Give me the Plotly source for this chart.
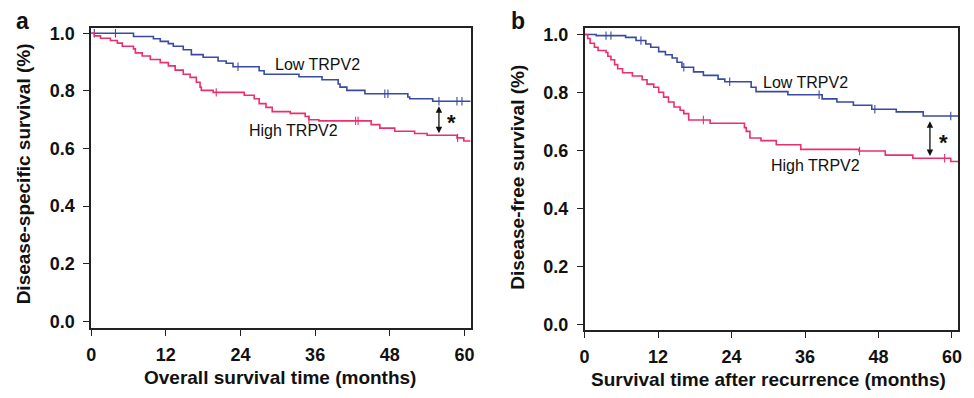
import numpy as np
import plotly.graph_objects as go

# ---------------- data ----------------
# Panel a: disease-specific survival
a_low_t = [0, 6.8, 10.0, 11.1, 12.4, 13.2, 14.8, 16.1, 18.0, 20.4, 21.7, 22.8, 27.0, 27.8,
           33.4, 37.1, 39.7, 40.0, 41.1, 44.0, 50.9, 51.2, 54.9, 61.0]
a_low_s = [1.0, 0.989, 0.981, 0.972, 0.964, 0.955, 0.943, 0.926, 0.917, 0.904, 0.896, 0.884,
           0.870, 0.858, 0.849, 0.839, 0.824, 0.813, 0.802, 0.790, 0.779, 0.773, 0.764, 0.764]
a_low_cens = [0.5, 3.9, 23.6, 47.2, 47.7, 55.9, 58.8, 59.6]

a_high_t = [0, 0.5, 1.5, 3.1, 4.2, 5.0, 6.8, 7.1, 8.2, 9.5, 11.1, 12.4, 13.5, 14.8, 15.9,
            16.9, 17.5, 17.7, 19.6, 24.6, 26.2, 27.0, 28.1, 29.1, 32.0, 34.4, 35.0, 36.6,
            45.0, 46.4, 48.8, 52.0, 54.0, 58.8, 59.9, 61.0]
a_high_s = [1.0, 0.991, 0.983, 0.975, 0.966, 0.955, 0.946, 0.932, 0.921, 0.909, 0.898, 0.887,
            0.872, 0.858, 0.847, 0.830, 0.813, 0.802, 0.795, 0.785, 0.773, 0.756, 0.743,
            0.728, 0.722, 0.711, 0.700, 0.696, 0.683, 0.671, 0.660, 0.652, 0.646, 0.637,
            0.626, 0.626]
a_high_cens = [20.1, 35.0, 42.5, 42.9, 58.9]

# Panel b: disease-free survival
b_low_t = [0, 1.9, 6.7, 8.4, 10.0, 10.8, 12.1, 13.2, 14.3, 15.1, 15.9, 17.8, 19.4, 21.8,
           22.9, 27.2, 28.0, 33.2, 38.8, 41.2, 43.9, 46.9, 50.9, 55.3, 61.0]
b_low_s = [1.0, 0.996, 0.990, 0.979, 0.967, 0.956, 0.941, 0.930, 0.919, 0.904, 0.887, 0.871,
           0.859, 0.846, 0.837, 0.818, 0.803, 0.792, 0.778, 0.767, 0.756, 0.742, 0.733,
           0.719, 0.719]
b_low_cens = [3.5, 4.3, 9.2, 16.2, 23.7, 38.3, 47.4, 59.8]

b_high_t = [0, 0.5, 0.9, 1.6, 2.2, 3.5, 3.8, 4.3, 4.9, 5.4, 6.2, 7.8, 9.4, 10.2, 11.3, 12.1,
            12.9, 13.7, 14.6, 15.6, 16.2, 17.0, 20.5, 26.1, 26.4, 27.0, 28.8, 31.3, 35.3,
            44.8, 49.1, 53.6, 59.8, 61.0]
b_high_s = [1.0, 0.986, 0.970, 0.956, 0.945, 0.938, 0.925, 0.913, 0.896, 0.882, 0.868, 0.857,
            0.844, 0.829, 0.818, 0.801, 0.784, 0.767, 0.750, 0.739, 0.727, 0.705, 0.694,
            0.679, 0.666, 0.643, 0.634, 0.620, 0.604, 0.598, 0.584, 0.573, 0.562, 0.562]
b_high_cens = [19.4, 44.9, 58.8]

x_ticks = [0, 12, 24, 36, 48, 60]
y_ticks = [0.0, 0.2, 0.4, 0.6, 0.8, 1.0]
y_ticklabels = ["0.0", "0.2", "0.4", "0.6", "0.8", "1.0"]

BLUE = "#3a4aa3"
RED = "#eb2f6b"
FONT = "Liberation Sans, Arial, sans-serif"

W, H = 974, 398


def PX(x):
    return x / W


def PY(y):
    return 1 - y / H


def surv_at(t, s, tc):
    t = np.asarray(t)
    s = np.asarray(s)
    idx = np.searchsorted(t, np.asarray(tc), side="right") - 1
    return s[idx]


fig = go.Figure()


def add_panel(xa, ya, t1, s1, c1, t2, s2, c2):
    for t, s, c, col in [(t1, s1, c1, BLUE), (t2, s2, c2, RED)]:
        fig.add_trace(go.Scatter(x=t, y=s, mode="lines", line=dict(color=col, width=1.6, shape="hv"),
                                 xaxis=xa, yaxis=ya, showlegend=False, hoverinfo="skip"))
        fig.add_trace(go.Scatter(x=c, y=surv_at(t, s, c), mode="markers",
                                 marker=dict(symbol="line-ns", size=6, line=dict(color=col, width=1.1)),
                                 xaxis=xa, yaxis=ya, showlegend=False, hoverinfo="skip"))


add_panel("x", "y", a_low_t, a_low_s, a_low_cens, a_high_t, a_high_s, a_high_cens)
add_panel("x2", "y2", b_low_t, b_low_s, b_low_cens, b_high_t, b_high_s, b_high_cens)

axis_common = dict(showline=True, linecolor="#222", linewidth=1.6, mirror=True, ticks="outside",
                   ticklen=6, tickwidth=1.4, tickcolor="#222", showgrid=False, zeroline=False,
                   tickfont=dict(family=FONT, size=18, color="#111", weight="bold"))
xax = dict(axis_common, ticklabelstandoff=3)
yax = dict(axis_common, ticklabelstandoff=5)

fig.update_layout(
    width=W, height=H, margin=dict(l=0, r=0, t=0, b=0),
    plot_bgcolor="white", paper_bgcolor="white",
    xaxis=dict(domain=[PX(87), PX(470)], range=[0, 61.0], tickvals=x_ticks, anchor="y", **xax),
    yaxis=dict(domain=[PY(331), PY(24)], range=[-0.024, 1.020], tickvals=y_ticks,
               ticktext=y_ticklabels, anchor="x", **yax),
    xaxis2=dict(domain=[PX(585), PX(962)], range=[0, 61.0], tickvals=x_ticks, anchor="y2", **xax),
    yaxis2=dict(domain=[PY(333), PY(24)], range=[-0.020, 1.024], tickvals=y_ticks,
                ticktext=y_ticklabels, anchor="x2", **yax),
)

lab = dict(family=FONT, size=16, color="#111")
ttl = dict(family=FONT, size=19, color="#111")


def txt(x, y, text, font, angle=0):
    return dict(x=PX(x), y=PY(y), xref="paper", yref="paper", text=text, showarrow=False,
                font=font, textangle=angle, xanchor="center", yanchor="middle")


ann = [
    txt(315, 62, "Low TRPV2", lab),
    txt(291, 129, "High TRPV2", lab),
    txt(808, 80, "Low TRPV2", lab),
    txt(818, 165, "High TRPV2", lab),
    # significance arrows
    dict(x=55.9, y=0.653, ax=55.9, ay=0.752, xref="x", yref="y", axref="x", ayref="y", text="",
         showarrow=True, arrowhead=2, arrowside="end+start", arrowsize=1, arrowwidth=1.3, arrowcolor="#111"),
    dict(x=56.4, y=0.581, ax=56.4, ay=0.706, xref="x2", yref="y2", axref="x2", ayref="y2", text="",
         showarrow=True, arrowhead=2, arrowside="end+start", arrowsize=1, arrowwidth=1.3, arrowcolor="#111"),
    txt(451, 121, "<b>*</b>", dict(family=FONT, size=22, color="#111")),
    txt(947, 141, "<b>*</b>", dict(family=FONT, size=22, color="#111")),
    # panel letters
    txt(18, 17, "<b>a</b>", dict(family=FONT, size=23, color="#111")),
    txt(518, 17, "<b>b</b>", dict(family=FONT, size=23, color="#111")),
    # axis titles
    txt(19, 173, "<b>Disease-specific survival (%)</b>", ttl, -90),
    txt(517, 177, "<b>Disease-free survival (%)</b>", ttl, -90),
    txt(278, 381, "<b>Overall survival time (months)</b>", ttl),
    txt(771, 383, "<b>Survival time after recurrence (months)</b>", ttl),
]
fig.update_layout(annotations=ann)

fig.write_html("out.html", config={"displayModeBar": False},
               post_script="document.body.style.margin='0';document.body.style.overflow='hidden';")
